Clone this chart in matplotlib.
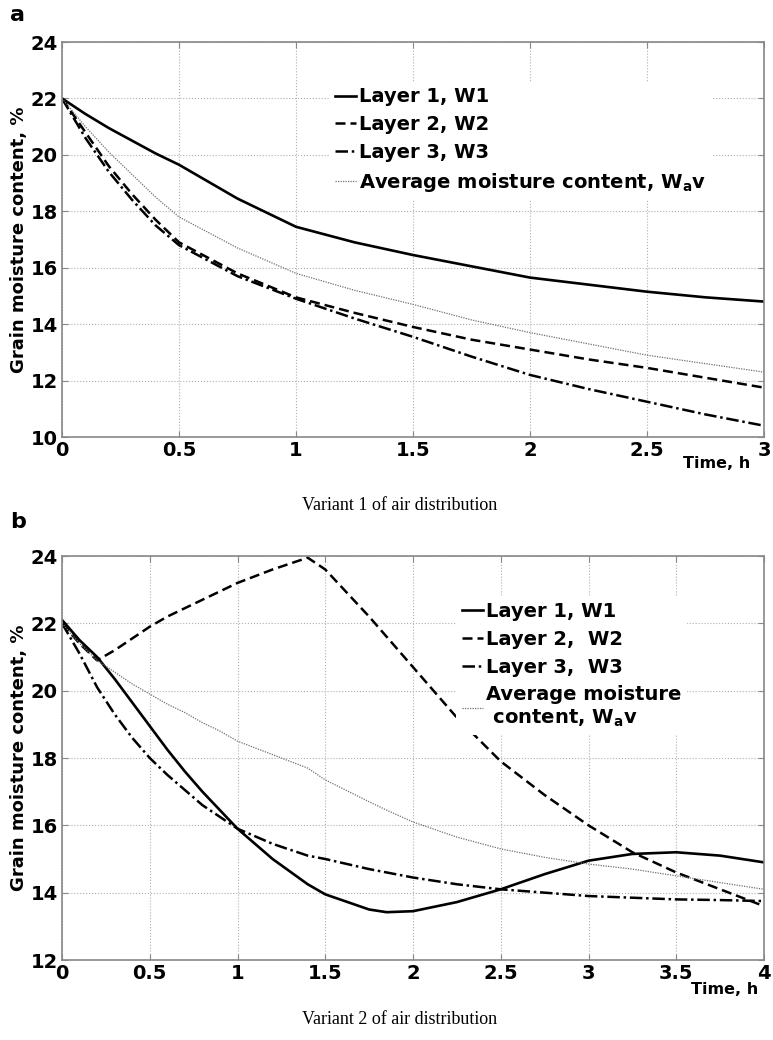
import matplotlib
matplotlib.use("Agg")
import matplotlib.pyplot as plt

plt.rcParams['font.family'] = ['DejaVu Sans']
plt.rcParams['font.weight'] = 'bold'
plt.rcParams['axes.labelweight'] = 'bold'
plt.rcParams['mathtext.fontset'] = 'dejavusans'
plt.rcParams['mathtext.default'] = 'bf'

# panel a: variant 1 of air distribution
time_a = [0, 0.1, 0.2, 0.3, 0.4, 0.5, 0.75, 1, 1.25, 1.5, 1.75, 2, 2.25, 2.5, 2.75, 3]
layer1_a = [22, 21.45, 20.95, 20.5, 20.05, 19.65, 18.45, 17.45, 16.9, 16.45, 16.05, 15.65, 15.4, 15.15, 14.95, 14.8]
layer2_a = [22, 20.8, 19.6, 18.6, 17.7, 16.9, 15.8, 14.95, 14.4, 13.9, 13.45, 13.1, 12.75, 12.45, 12.1, 11.75]
layer3_a = [22, 20.6, 19.4, 18.4, 17.5, 16.8, 15.7, 14.9, 14.2, 13.55, 12.85, 12.2, 11.7, 11.25, 10.8, 10.4]
avg_a = [22, 21.0, 20.1, 19.3, 18.5, 17.8, 16.7, 15.8, 15.2, 14.7, 14.15, 13.7, 13.3, 12.9, 12.6, 12.3]

# panel b: variant 2 of air distribution
time_b = [0, 0.1, 0.2, 0.3, 0.4, 0.5, 0.6, 0.7, 0.8, 0.9, 1.0, 1.2, 1.4, 1.5, 1.75,
          1.85, 2.0, 2.25, 2.5, 2.75, 3.0, 3.25, 3.5, 3.75, 4.0]
layer1_b = [22.1, 21.5, 21.0, 20.35, 19.65, 18.95, 18.25, 17.6, 17.0, 16.45, 15.9, 15.0, 14.25, 13.95, 13.5,
            13.42, 13.45, 13.72, 14.1, 14.55, 14.95, 15.15, 15.2, 15.1, 14.9]
layer2_b = [22, 21.4, 20.9, 21.2, 21.55, 21.9, 22.2, 22.45, 22.7, 22.95, 23.2, 23.6, 23.95, 23.6, 22.2,
            21.6, 20.7, 19.2, 17.9, 16.9, 16.0, 15.2, 14.6, 14.1, 13.6]
layer3_b = [22, 21.1, 20.1, 19.3, 18.6, 18.0, 17.5, 17.05, 16.6, 16.25, 15.9, 15.45, 15.1, 15.0, 14.7,
            14.6, 14.45, 14.25, 14.1, 14.0, 13.9, 13.85, 13.8, 13.78, 13.75]
avg_b = [22, 21.4, 20.9, 20.55, 20.2, 19.9, 19.6, 19.35, 19.05, 18.8, 18.5, 18.1, 17.7, 17.35, 16.7,
         16.45, 16.1, 15.65, 15.3, 15.05, 14.85, 14.7, 14.5, 14.3, 14.1]

labels_a = ["Layer 1, W1", "Layer 2, W2", "Layer 3, W3", "Average moisture content, W$_a$v"]
labels_b = ["Layer 1, W1", "Layer 2,  W2", "Layer 3,  W3", "Average moisture\n content, W$_a$v"]

fig = plt.figure(figsize=(7.73, 10.4), dpi=100)
ax_a = fig.add_axes([62 / 773, 1 - 437 / 1040, 702 / 773, 395 / 1040])
ax_b = fig.add_axes([62 / 773, 1 - 960 / 1040, 702 / 773, 404 / 1040])


def draw_panel(ax, t, l1, l2, l3, av, labels, xmax, ymin, leg_pos, xlab_pos):
    ax.plot(t, l1, color='black', lw=1.9, ls='-', label=labels[0])
    ax.plot(t, l2, color='black', lw=1.8, ls=(0, (4, 2)), label=labels[1])
    ax.plot(t, l3, color='black', lw=1.8, ls=(0, (5, 1.5, 1, 1.5)), label=labels[2])
    ax.plot(t, av, color='#707070', lw=0.9, ls=(0, (1, 1)), label=labels[3])
    ax.set_xlim(0, xmax)
    ax.set_ylim(ymin, 24)
    ax.set_yticks(range(ymin, 25, 2))
    ax.set_xticks([i * 0.5 for i in range(int(xmax * 2) + 1)])
    ax.set_xticklabels(['%g' % (i * 0.5) for i in range(int(xmax * 2) + 1)])
    ax.grid(True, ls=':', color='#b0b0b0', lw=0.8)
    for s in ax.spines.values():
        s.set_color('#888888')
        s.set_linewidth(1.2)
    ax.tick_params(direction='in', top=True, right=True, color='#888888', length=4,
                   labelsize=14, pad=3)
    ax.set_ylabel("Grain moisture content, %", fontsize=13, fontweight='bold', labelpad=2)
    ax.text(xlab_pos[0], xlab_pos[1], "Time, h", transform=ax.transAxes,
            fontsize=11.5, ha='center', va='center')
    leg = ax.legend(loc='upper left', bbox_to_anchor=leg_pos, frameon=True,
                    fontsize=14, handlelength=1.1, handletextpad=0.15,
                    labelspacing=0.45, borderpad=0.3, borderaxespad=0, fancybox=False)
    leg.get_frame().set_facecolor('white')
    leg.get_frame().set_edgecolor('none')
    leg.get_frame().set_alpha(1)


draw_panel(ax_a, time_a, layer1_a, layer2_a, layer3_a, avg_a, labels_a, 3, 10,
           (0.38, 0.9), (0.933, -0.066))
draw_panel(ax_b, time_b, layer1_b, layer2_b, layer3_b, avg_b, labels_b, 4, 12,
           (0.561, 0.9), (0.944, -0.074))

fig.text(10 / 773, 1 - 15 / 1040, "a", fontsize=16, ha='left', va='center')
fig.text(10 / 773, 1 - 522 / 1040, "b", fontsize=16, ha='left', va='center')
fig.text(400 / 773, 1 - 505 / 1040, "Variant 1 of air distribution",
         family='Liberation Serif', weight='normal', fontsize=13, ha='center', va='center')
fig.text(400 / 773, 1 - 1020 / 1040, "Variant 2 of air distribution",
         family='Liberation Serif', weight='normal', fontsize=13, ha='center', va='center')

fig.savefig("out.png", dpi=100)
